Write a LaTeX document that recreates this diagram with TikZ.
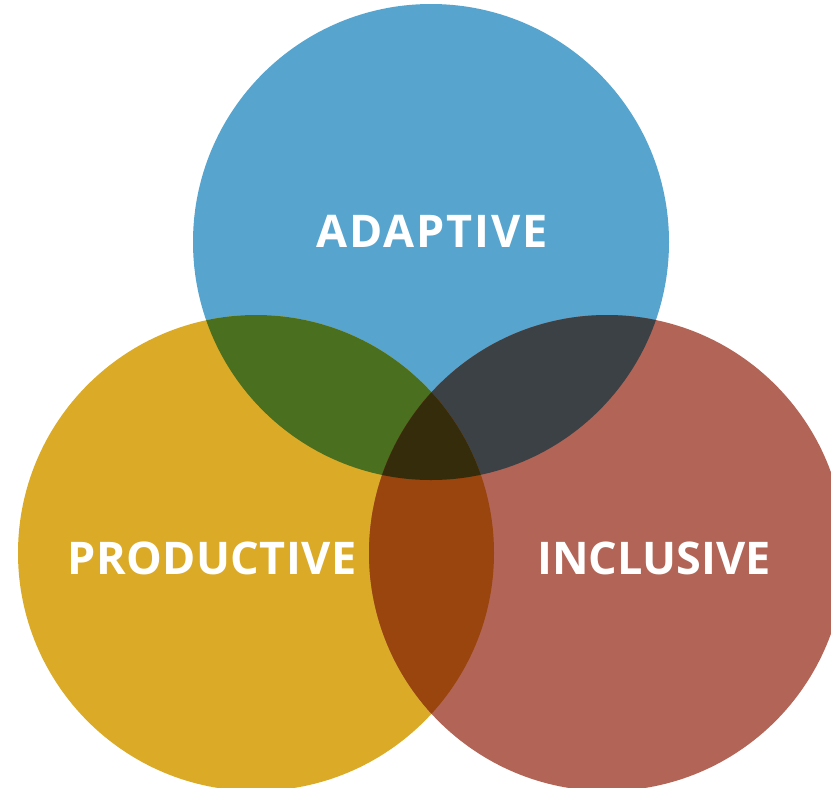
\documentclass[tikz,border=0pt]{standalone}
\usepackage{fontspec}
\setmainfont{Open Sans}
\definecolor{adaptblue}{HTML}{57A5CE}
\definecolor{prodyellow}{HTML}{DBAB27}
\definecolor{inclred}{HTML}{B26556}
\definecolor{blueyellow}{HTML}{4A6F1E}
\definecolor{bluered}{HTML}{3C4145}
\definecolor{yellowred}{HTML}{9A440E}
\definecolor{allthree}{HTML}{342C0A}
\begin{document}
\begin{tikzpicture}[x=1pt,y=-1pt,
  ring/.style={circle,minimum size=476pt,inner sep=0pt,draw=none},
  label/.style={text=white,font=\fontsize{45}{50}\selectfont\bfseries}]
\useasboundingbox (0,0) rectangle (831,788);
% the three sets
\node[ring,fill=adaptblue]  (adaptive)   at (431,242) {};
\node[ring,fill=prodyellow] (productive) at (256,553) {};
\node[ring,fill=inclred]    (inclusive)  at (607,553) {};
% pairwise overlaps
\begin{scope}
  \clip (adaptive.center) circle (238pt);
  \fill[blueyellow] (productive.center) circle (238pt);
\end{scope}
\begin{scope}
  \clip (adaptive.center) circle (238pt);
  \fill[bluered] (inclusive.center) circle (238pt);
\end{scope}
\begin{scope}
  \clip (productive.center) circle (238pt);
  \fill[yellowred] (inclusive.center) circle (238pt);
\end{scope}
% common core
\begin{scope}
  \clip (adaptive.center) circle (238pt);
  \clip (productive.center) circle (238pt);
  \fill[allthree] (inclusive.center) circle (238pt);
\end{scope}
% labels
\node[label] (adaptlabel) at (432,231) {\addfontfeature{LetterSpace=4}ADAPTIVE};
\node[label] (prodlabel)  at (212,558) {\addfontfeature{LetterSpace=1}PRODUCTIVE};
\node[label] (incllabel)  at (654,558) {INCLUSIVE};
\end{tikzpicture}
\end{document}
